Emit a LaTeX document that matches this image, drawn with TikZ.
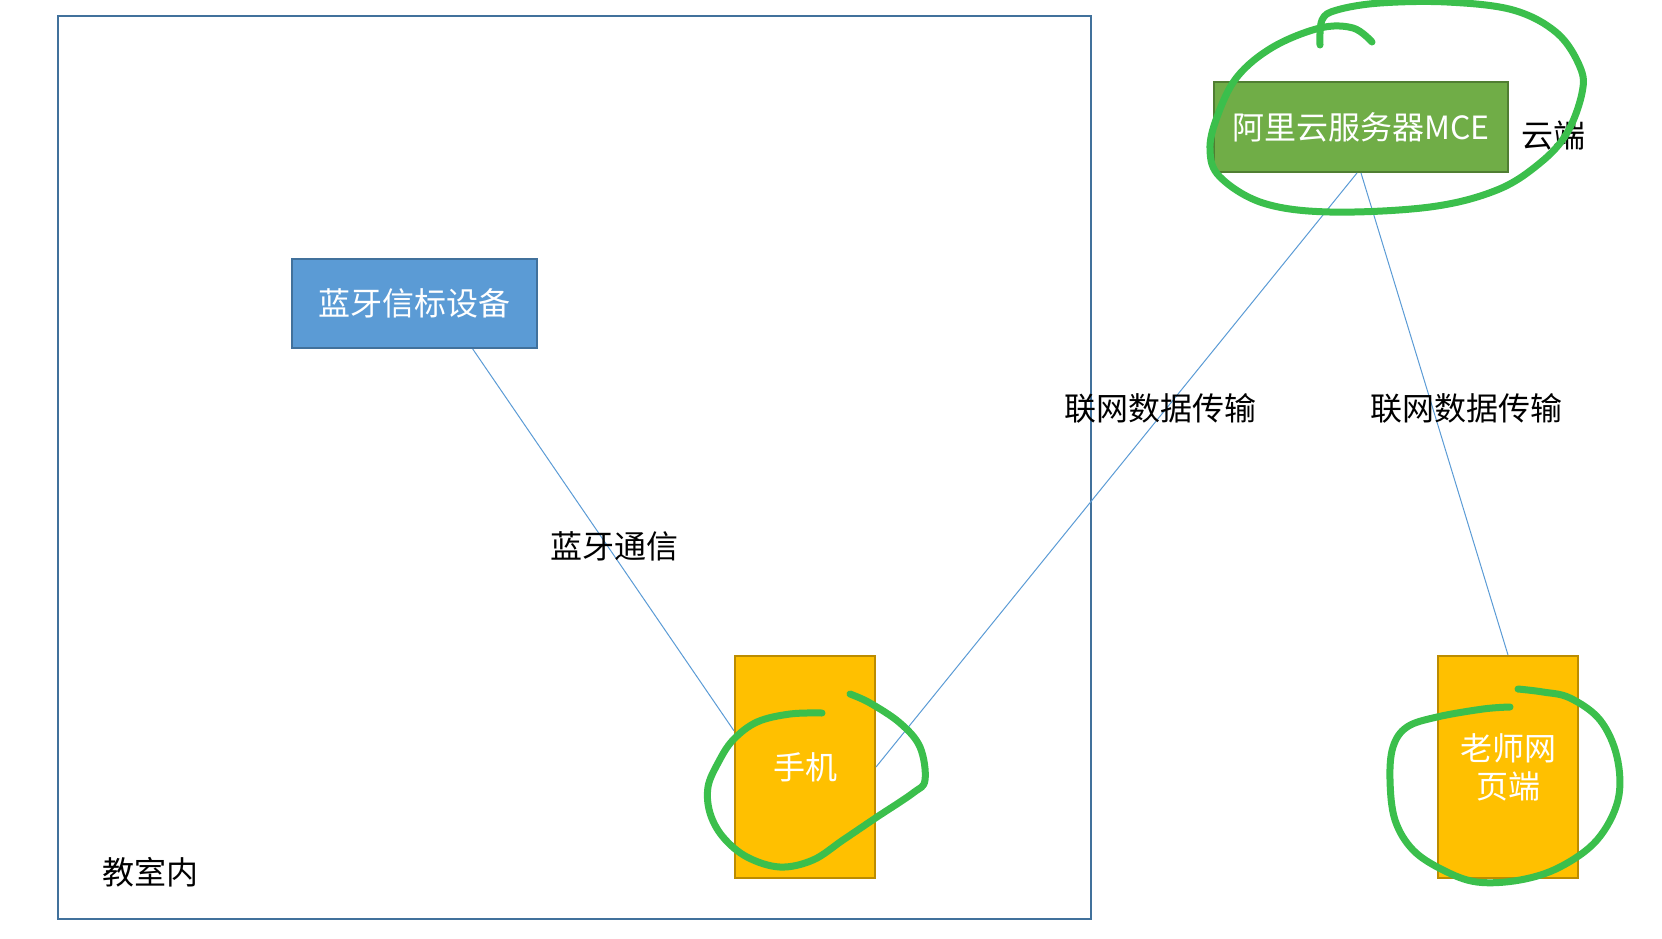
\documentclass[tikz,border=0pt]{standalone}
\usepackage{fontspec}
\setmainfont{Noto Sans CJK SC}
\definecolor{roomline}{HTML}{41719C}
\definecolor{beaconfill}{HTML}{5B9BD5}
\definecolor{serverfill}{HTML}{70AD47}
\definecolor{serverline}{HTML}{507E32}
\definecolor{phonefill}{HTML}{FFC000}
\definecolor{phoneline}{HTML}{BC8C00}
\definecolor{marker}{HTML}{3BBF4C}
\tikzset{
    box/.style={draw, line width=2pt, text=white, inner sep=0pt, font=\fontsize{32}{38}\selectfont},
    link/.style={draw=beaconfill, line width=1pt},
    tag/.style={font=\fontsize{32}{38}\selectfont},
    ring/.style={draw=marker, line width=7pt, line cap=round, line join=round}
}
\begin{document}
\begin{tikzpicture}[x=1pt, y=-1pt]
    \useasboundingbox (0,0) rectangle (1662,938);

    \draw[draw=roomline, line width=2pt] (58,16) rectangle (1091,919);

    \node[box, fill=beaconfill, draw=roomline, minimum width=245pt, minimum height=89pt] (beacon) at (414.5,303.5) {蓝牙信标设备};

    \node[box, fill=serverfill, draw=serverline, minimum width=294pt, minimum height=90pt] (server) at (1361,127) {阿里云服务器MCE};

    \node[box, fill=phonefill, draw=phoneline, minimum width=140pt, minimum height=222pt] (phone) at (805,767) {手机};

    \node[box, fill=phonefill, draw=phoneline, minimum width=140pt, minimum height=222pt, align=center] (teacher) at (1508,767) {老师网\\页端};

    \draw[link] (beacon.-38) -- (phone.153);
    \draw[link] (phone.east) -- (server.-95);
    \draw[link] (server.south) -- (teacher.north);

    \node[tag] (bt) at (614,546) {蓝牙通信};
    \node[tag] (net1) at (1160,408) {联网数据传输};
    \node[tag] (net2) at (1466,408) {联网数据传输};
    \node[tag] (cloud) at (1553,135) {云端};
    \node[tag] (room) at (150,872) {教室内};

    % hand drawn marks
    \draw[ring] plot[smooth, tension=0.6] coordinates {(1320,45) (1322,20) (1337,10) (1380,3) (1447,2) (1513,10) (1557,33) (1580,67) (1582,93) (1567,133) (1540,163) (1497,190) (1430,207) (1330,212) (1263,203) (1220,177) (1210,150) (1217,117) (1237,77) (1273,47) (1320,28) (1353,28) (1372,42)};

    \draw[ring] plot[smooth, tension=0.6] coordinates {(822,713) (790,714) (757,722) (733,740) (718,763) (708,787) (710,813) (723,837) (747,857) (780,867) (813,860) (843,840) (877,817) (913,793) (925,780) (920,747) (900,723) (870,703) (850,694)};

    \draw[ring] plot[smooth, tension=0.6] coordinates {(1510,707) (1483,709) (1437,717) (1407,727) (1393,747) (1390,780) (1395,820) (1413,850) (1443,870) (1477,882) (1520,880) (1560,867) (1597,840) (1618,800) (1617,757) (1600,720) (1570,698) (1543,692) (1518,689)};
\end{tikzpicture}
\end{document}
